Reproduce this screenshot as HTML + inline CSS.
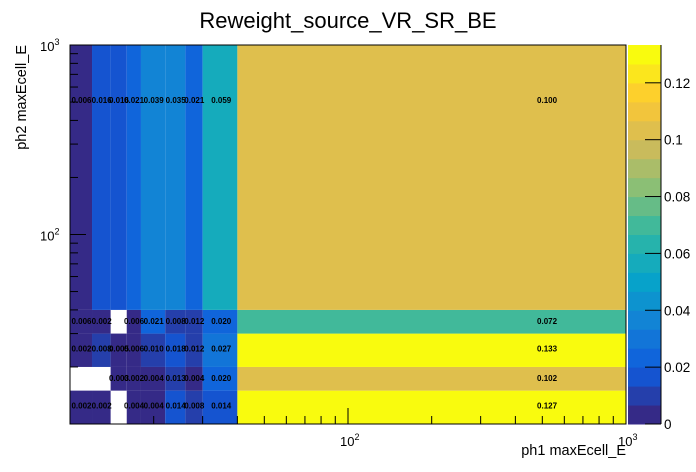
<!DOCTYPE html>
<html><head><meta charset="utf-8"><style>
body{margin:0;background:#fff;}
svg{display:block;font-family:"Liberation Sans",sans-serif;}
</style></head><body>
<svg id="c" width="696" height="472" viewBox="0 0 696 472">
<text x="348" y="28" font-size="22" text-anchor="middle">Reweight_source_VR_SR_BE</text>
<g id="cells"></g>
<g id="labels"></g>
<rect x="70" y="45" width="556" height="379" fill="none" stroke="#000" stroke-width="1"/>
<g id="axes"></g>
<g id="cbar"></g>
<text x="626" y="455" font-size="14.5" text-anchor="end">ph1 maxEcell_E</text>
<text transform="translate(26,45) rotate(-90)" font-size="14.5" text-anchor="end">ph2 maxEcell_E</text>
</svg>
<script>
const xEdges=[10,12,14,16,18,22,26,30,40,1000];
const yEdges=[10,15,20,30,40,1000];
// rows bottom to top; null = empty bin
const row0=[0.002,0.002,null,0.004,0.004,0.014,0.008,0.014,0.127];
const row1=[null,null,0.003,0.002,0.004,0.013,0.004,0.020,0.102];
const row2=[0.002,0.008,0.005,0.006,0.010,0.018,0.012,0.027,0.133];
const row3=[0.006,0.002,null,0.006,0.021,0.008,0.012,0.020,0.072];
const row4=[0.006,0.016,0.016,0.021,0.039,0.035,0.021,0.059,0.100];
const zTicks=[0,0.02,0.04,0.06,0.08,0.1,0.12];
const zTickLabels=["0","0.02","0.04","0.06","0.08","0.1","0.12"];
const rows=[row0,row1,row2,row3,row4];
const zMax=0.1333,nCol=20;
const NS="http://www.w3.org/2000/svg";
const X=v=>70+278*Math.log10(v/10);
const Y=v=>424-189.5*Math.log10(v/10);
const Z=v=>424-379*v/zMax;
const stops=[[0,.2082,.1664,.5293],[.125,.0592,.3599,.8684],[.25,.0780,.5041,.8385],[.375,.0232,.6419,.7914],[.5,.1802,.7178,.6425],[.625,.5301,.7492,.4662],[.75,.8186,.7328,.3499],[.875,.9956,.7862,.1968],[1,.9764,.9832,.0539]];
function pal(f){for(let i=0;i<stops.length-1;i++){const a=stops[i],b=stops[i+1];if(f<=b[0]){const t=(f-a[0])/(b[0]-a[0]);return`rgb(${[1,2,3].map(k=>Math.round(255*(a[k]+(b[k]-a[k])*t))).join(',')})`;}}return'rgb(249,251,14)';}
const bandColor=i=>pal(i/(nCol-1));
const band=v=>Math.min(nCol-1,Math.floor(nCol*v/zMax+1e-6));
function el(t,a,p){const e=document.createElementNS(NS,t);for(const k in a)e.setAttribute(k,a[k]);p.appendChild(e);return e;}
const cells=document.getElementById('cells'),labels=document.getElementById('labels');
rows.forEach((r,j)=>r.forEach((v,i)=>{
 if(v===null)return;
 const x0=X(xEdges[i]),x1=X(xEdges[i+1]),y0=Y(yEdges[j+1]),y1=Y(yEdges[j]);
 const c=el('rect',{x:x0,y:y0,width:x1-x0,height:y1-y0,fill:bandColor(band(v))},cells);
 
 
 const cx=X((xEdges[i]+xEdges[i+1])/2),cy=Y((yEdges[j]+yEdges[j+1])/2);
 const t=el('text',{x:cx,y:j===4?cy+4:cy+3,'font-size':8,'font-weight':'bold','text-anchor':'middle'},labels);
 t.textContent=v.toFixed(3);
 
 
}));
const ax=document.getElementById('axes');
for(let d=10;d<=1000;d*=10)for(let m=1;m<10;m++){const v=d*m;if(v<10||v>1000)continue;const x=X(v),y=Y(v),maj=m===1;
 el('line',{x1:x,x2:x,y1:424,y2:424-(maj?16:8),stroke:'#000'},ax);
 el('line',{x1:70,x2:70+(maj?16:8),y1:y,y2:y,stroke:'#000'},ax);}
[[100,'2'],[1000,'3']].forEach(([v,e])=>{
 const t=el('text',{x:X(v)-8,y:446,'font-size':13},ax);t.innerHTML=`10<tspan dy="-6" font-size="9">${e}</tspan>`;
 
 const u=el('text',{x:40,y:Y(v)+6,'font-size':13},ax);u.innerHTML=`10<tspan dy="-6" font-size="9">${e}</tspan>`;
 
});
const cb=document.getElementById('cbar');
for(let i=0;i<nCol;i++){const r=el('rect',{x:628,y:Z((i+1)*zMax/nCol),width:33,height:379/nCol+0.5,fill:bandColor(i)},cb);
 }
el('line',{x1:661,x2:661,y1:45,y2:424,stroke:'#000'},cb);
zTicks.forEach((v,i)=>{const y=Z(v);el('line',{x1:645,x2:661,y1:y,y2:y,stroke:'#000'},cb);
 const t=el('text',{x:664,y:y+5,'font-size':13.5},cb);t.textContent=zTickLabels[i];
 });
</script>
</body></html>
